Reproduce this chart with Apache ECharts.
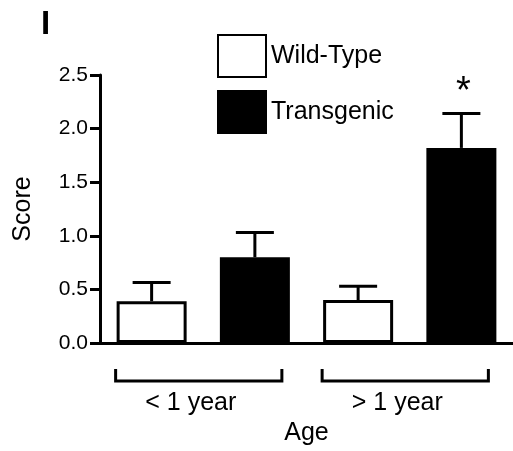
<!DOCTYPE html>
<html>
<head>
<meta charset="utf-8">
<script src="https://cdn.jsdelivr.net/npm/echarts@6/dist/echarts.min.js"></script>
<style>
html,body{margin:0;padding:0;background:#fff;}
#chart{width:513px;height:451px;}
</style>
</head>
<body>
<div id="chart"></div>
<script>
// ---- data ----
var groups = ['< 1 year', '> 1 year'];
var seriesNames = ['Wild-Type', 'Transgenic'];
var wildType = [0.39, 0.40];
var wildTypeErrTop = [0.565, 0.53];
var transgenic = [0.80, 1.82];
var transgenicErrTop = [1.03, 2.14];
var significance = ['', '*'];
var yTicks = [0, 0.5, 1.0, 1.5, 2.0, 2.5];

// ---- build category slots: WT, TG per group ----
var categories = [];
var wtData = [], tgData = [], errData = [], bracketData = [];
groups.forEach(function (g, gi) {
  var iw = categories.length; categories.push(g + ' WT');
  var it = categories.length; categories.push(g + ' TG');
  wtData.push(wildType[gi]); wtData.push(null);
  tgData.push(null); tgData.push(transgenic[gi]);
  errData.push([iw, wildType[gi], wildTypeErrTop[gi], '']);
  errData.push([it, transgenic[gi], transgenicErrTop[gi], significance[gi]]);
  bracketData.push([iw, it, g]);
});

var FONT = 'Liberation Sans, Arial, sans-serif';
var chart = echarts.init(document.getElementById('chart'));
chart.setOption({
  animation: false,
  backgroundColor: '#fff',
  grid: { left: 100, right: -4, top: 75, bottom: 106, containLabel: false },
  legend: {
    data: seriesNames,
    orient: 'vertical',
    left: 217, top: 34, padding: 0,
    itemWidth: 48, itemHeight: 42, itemGap: 12,
    icon: 'rect',
    selectedMode: false,
    textStyle: { fontFamily: FONT, fontSize: 25, color: '#000', padding: [0, 0, 15, 0] }
  },
  xAxis: {
    type: 'category',
    data: categories,
    boundaryGap: true,
    name: 'Age',
    nameLocation: 'middle',
    nameGap: 78,
    nameTextStyle: { fontFamily: FONT, fontSize: 25, color: '#000' },
    axisLine: { lineStyle: { color: '#000', width: 3 } },
    axisTick: { alignWithLabel: true, length: 10, lineStyle: { color: '#000', width: 3 } },
    axisLabel: { show: false }
  },
  yAxis: {
    type: 'value',
    min: 0, max: 2.5, interval: 0.5,
    name: 'Score',
    nameLocation: 'middle',
    nameGap: 64,
    nameTextStyle: { fontFamily: FONT, fontSize: 25, color: '#000' },
    axisLine: { show: true, lineStyle: { color: '#000', width: 3 } },
    axisTick: { show: true, length: 10, lineStyle: { color: '#000', width: 3 } },
    splitLine: { show: false },
    axisLabel: {
      fontFamily: FONT, fontSize: 21, color: '#000', margin: 12,
      formatter: function (v) { return yTicks.indexOf(v) >= 0 ? v.toFixed(1) : ''; }
    }
  },
  series: [
    {
      name: seriesNames[0], type: 'bar', data: wtData, barWidth: 70, barGap: '-100%',
      itemStyle: { color: '#fff', borderColor: '#000', borderWidth: 3 }
    },
    {
      name: seriesNames[1], type: 'bar', data: tgData, barWidth: 70, barGap: '-100%',
      itemStyle: { color: '#000', borderColor: '#000', borderWidth: 3 }
    },
    {
      type: 'custom', data: errData, clip: false, z: 5,
      encode: { x: 0, y: 2 },
      renderItem: function (params, api) {
        var x = api.value(0);
        var top = api.coord([x, api.value(1)]);
        var cap = api.coord([x, api.value(2)]);
        var half = 19;
        var star = errData[params.dataIndex][3];
        var children = [
          { type: 'line', shape: { x1: top[0], y1: top[1], x2: cap[0], y2: cap[1] }, style: { stroke: '#000', lineWidth: 3 } },
          { type: 'line', shape: { x1: cap[0] - half, y1: cap[1], x2: cap[0] + half, y2: cap[1] }, style: { stroke: '#000', lineWidth: 3 } }
        ];
        if (star) {
          children.push({ type: 'text', x: cap[0] + 2, y: cap[1] - 21, style: { text: star, fontFamily: FONT, fontSize: 38, fill: '#000', align: 'center', verticalAlign: 'middle' } });
        }
        return { type: 'group', children: children };
      }
    },
    {
      type: 'custom', data: bracketData, clip: false, silent: true,
      encode: { x: 0 },
      renderItem: function (params, api) {
        var a = api.coord([api.value(0), 0]);
        var b = api.coord([api.value(1), 0]);
        var x1 = a[0] - 36, x2 = b[0] + 27;
        var y1 = a[1] + 26, y2 = a[1] + 38;
        return {
          type: 'group',
          children: [
            { type: 'polyline', shape: { points: [[x1, y1], [x1, y2], [x2, y2], [x2, y1]] }, style: { stroke: '#000', lineWidth: 3, fill: null } },
            { type: 'text', x: (x1 + x2) / 2 - 8, y: a[1] + 60, style: { text: bracketData[params.dataIndex][2], fontFamily: FONT, fontSize: 25, fill: '#000', align: 'center', verticalAlign: 'middle' } }
          ]
        };
      }
    }
  ],
  graphic: [
    { type: 'text', left: 41, top: 8, style: { text: 'I', fontFamily: FONT, fontWeight: 'bold', fontSize: 33, fill: '#000' } }
  ]
});
</script>
</body>
</html>
